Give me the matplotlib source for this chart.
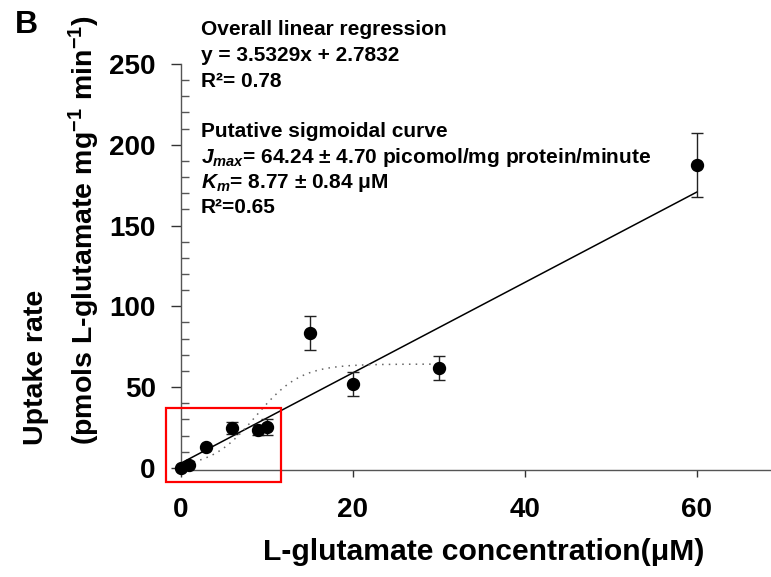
import numpy as np
import matplotlib
matplotlib.use("Agg")
import matplotlib.pyplot as plt
from matplotlib.patches import Rectangle
from matplotlib.ticker import MultipleLocator, FixedLocator

plt.rcParams['font.family'] = ['Liberation Sans', 'DejaVu Sans']
plt.rcParams['font.weight'] = 'bold'
plt.rcParams['mathtext.fontset'] = 'custom'
plt.rcParams['mathtext.rm'] = 'Liberation Sans:bold'
plt.rcParams['mathtext.bf'] = 'Liberation Sans:bold'
plt.rcParams['mathtext.it'] = 'Liberation Sans:italic:bold'

# Measured uptake of L-glutamate (mean ± error)
concentration = [0, 1, 3, 6, 9, 10, 15, 20, 30, 60]
uptake = [0, 1.5, 13, 24.5, 23.5, 25.5, 83.5, 52, 62, 187.5]
uptake_err = [np.nan, np.nan, np.nan, 3.8, 3.0, 5.0, 10.5, 7.4, 7.4, 20.0]

# Overall linear fit as drawn
linear_slope = 2.80
linear_intercept = 2.7832
linear_range = [0, 60]

# Putative sigmoidal curve
jmax = 64.24
km = 8.77
sigmoid_width = 2.6
sigmoid_range = [0, 30]

x_ticks = [0, 20, 40, 60]
y_ticks = [0, 50, 100, 150, 200, 250]

W, H = 771, 577
fig = plt.figure(figsize=(W / 100, H / 100), dpi=100)
ax = fig.add_axes([180.5 / W, (H - 469.5) / H, (W - 180.5) / W, (469.5 - 64) / H])

# linear regression line
lx = np.array(linear_range, dtype=float)
ax.plot(lx, linear_slope * lx + linear_intercept, color='black', lw=1.1, zorder=2)

# sigmoidal curve
sx = np.linspace(sigmoid_range[0], sigmoid_range[1], 300)
sy = jmax / (1 + np.exp(-(sx - km) / sigmoid_width))
ax.plot(sx, sy, color='#666666', lw=1.1, linestyle=(0, (1, 3.4)), zorder=2)

# data points with error bars
ax.errorbar(concentration, uptake, yerr=uptake_err, fmt='o', color='black',
            ms=8.6, ecolor='#222222', elinewidth=1.0, capsize=4.6, capthick=1.0,
            clip_on=False, zorder=3)

# highlight box around the low-concentration region
ax.add_patch(Rectangle((-1.74, -8.7), 13.46, 45.8, fill=False, edgecolor='red',
                       lw=1.6, clip_on=False, zorder=4))

ax.set_xlim(0, 68.6)
ax.set_ylim(-1, 250)

for side in ('top', 'right'):
    ax.spines[side].set_visible(False)
for side in ('left', 'bottom'):
    ax.spines[side].set_color('#555555')
    ax.spines[side].set_linewidth(1.0)

ax.xaxis.set_major_locator(FixedLocator(x_ticks))
ax.yaxis.set_major_locator(FixedLocator(y_ticks))
ax.yaxis.set_minor_locator(MultipleLocator(10))
ax.tick_params(axis='y', which='major', direction='out', length=7, width=1,
               color='#333333', labelsize=20, pad=10.8)
ax.tick_params(axis='y', which='minor', direction='in', length=6, width=1,
               color='#555555')
ax.tick_params(axis='x', which='major', direction='out', length=5, width=1,
               color='#333333', labelsize=20, pad=15)
for lab in ax.get_xticklabels() + ax.get_yticklabels():
    lab.set_fontweight('bold')

# axis titles
fig.text(483.5 / W, 1 - 560 / H, 'L-glutamate concentration(μM)', fontsize=21.7,
         fontweight='bold', ha='center', va='baseline')
fig.text(36 / W, 1 - 445 / H, 'Uptake rate', fontsize=20.5, fontweight='bold',
         rotation=90, ha='center', va='bottom')
fig.text(84 / W, 1 - 445 / H, '(pmols L-glutamate mg$^{-1}$ min$^{-1}$)', fontsize=20.5,
         fontweight='bold', rotation=90, ha='center', va='bottom')

# fit annotations
tx = 200.7 / W
lines = [
    (35.0, 'Overall linear regression'),
    (60.7, 'y = 3.5329x + 2.7832'),
    (86.7, 'R²= 0.78'),
    (136.7, 'Putative sigmoidal curve'),
    (163.3, r'$\mathit{J}_{\mathit{max}}$= 64.24 ± 4.70 picomol/mg protein/minute'),
    (188.3, r'$\mathit{K}_{\mathit{m}}$= 8.77 ± 0.84 μM'),
    (213.3, 'R²=0.65'),
]
for yb, s in lines:
    fig.text(tx, 1 - yb / H, s, fontsize=15, fontweight='bold', va='baseline', ha='left')

fig.text(15 / W, 1 - 33 / H, 'B', fontsize=23, fontweight='bold', va='baseline', ha='left')

fig.savefig('out.png', dpi=100)
